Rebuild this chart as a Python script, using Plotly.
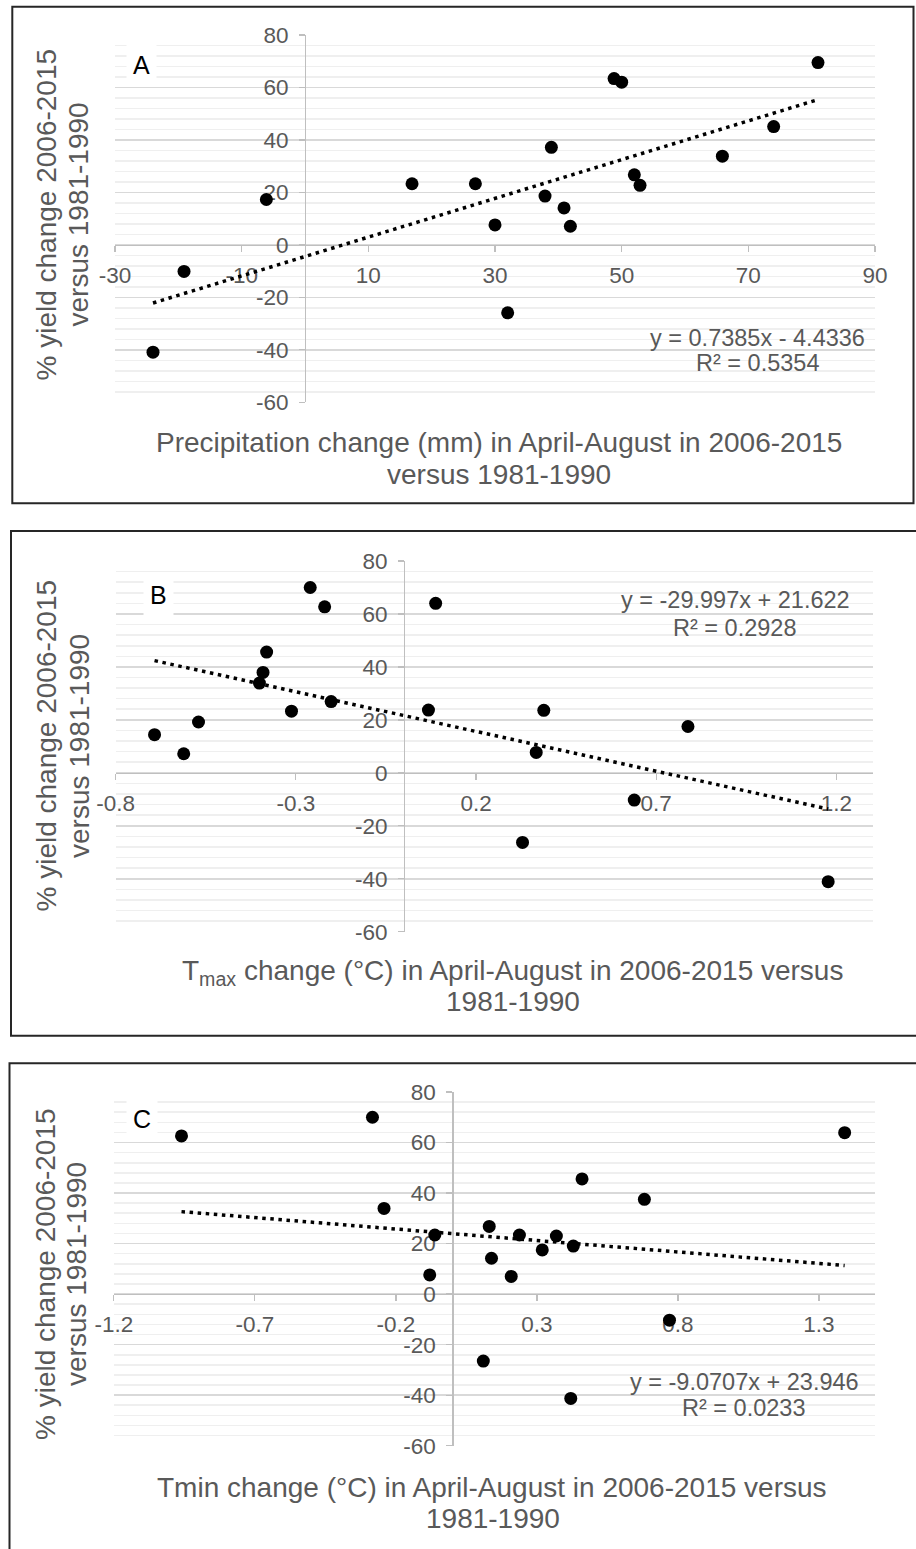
import plotly.graph_objects as go

W, H = 916, 1549
FONT = "Liberation Sans, Arial, Helvetica, sans-serif"
GREY_TXT = "#595959"

# ---------------- data ----------------
# Panel A: precipitation change (mm) vs % yield change
precip_change = [-24.0, -19.1, -6.1, 16.9, 26.9, 30.0, 32.0, 37.9, 38.9, 40.9,
                 41.9, 48.8, 50.0, 52.0, 52.9, 65.9, 74.0, 81.0]
yield_a = [-40.9, -10.1, 17.3, 23.3, 23.3, 7.6, -25.9, 18.6, 37.2, 14.1,
           7.1, 63.4, 62.0, 26.7, 22.7, 33.8, 45.1, 69.5]

# Panel B: Tmax change (°C) vs % yield change
tmax_change = [-0.692, -0.611, -0.570, -0.401, -0.391, -0.381, -0.312, -0.260, -0.220,
               -0.202, 0.068, 0.088, 0.329, 0.367, 0.388, 0.639, 0.788, 1.177]
yield_b = [14.4, 7.2, 19.2, 33.9, 37.9, 45.6, 23.3, 70.0, 62.7,
           26.9, 23.7, 64.0, -26.3, 7.7, 23.6, -10.3, 17.5, -41.1]

# Panel C: Tmin change (°C) vs % yield change
tmin_change = [-0.960, -0.283, -0.242, -0.080, -0.062, 0.110, 0.131, 0.139, 0.209,
               0.238, 0.319, 0.369, 0.420, 0.429, 0.460, 0.681, 0.770, 1.391]
yield_c = [62.6, 70.0, 33.9, 7.6, 23.4, -26.5, 26.8, 14.2, 7.0,
           23.4, 17.5, 23.0, -41.3, 19.0, 45.6, 37.5, -10.3, 63.9]

# Trendline coefficients (from the chart's equations)
trend_slope = [0.7385, -29.997, -9.0707]
trend_intercept = [-4.4336, 21.622, 23.946]
equation_text = ["y = 0.7385x - 4.4336", "y = -29.997x + 21.622", "y = -9.0707x + 23.946"]
r2_text = ["R² = 0.5354", "R² = 0.2928", "R² = 0.0233"]
panel_letters = ["A", "B", "C"]

# Axis ticks
x_range_a = [-30, 90]
x_ticks_a = [-30, -10, 10, 30, 50, 70, 90]
x_ticktext_a = ["-30", "-10", "10", "30", "50", "70", "90"]
x_range_b = [-0.8, 1.3]
x_ticks_b = [-0.8, -0.3, 0.2, 0.7, 1.2]
x_ticktext_b = ["-0.8", "-0.3", "0.2", "0.7", "1.2"]
x_range_c = [-1.2, 1.5]
x_ticks_c = [-1.2, -0.7, -0.2, 0.3, 0.8, 1.3]
x_ticktext_c = ["-1.2", "-0.7", "-0.2", "0.3", "0.8", "1.3"]
y_range = [-60, 80]
y_ticks = [-60, -40, -20, 0, 20, 40, 60, 80]
y_ticktext = ["-60", "-40", "-20", "0", "20", "40", "60", "80"]

y_title_lines = ["% yield change 2006-2015", "versus 1981-1990"]
x_title_a = ["Precipitation change (mm) in April-August in 2006-2015", "versus 1981-1990"]
x_title_b = ["T<sub>max</sub> change (°C) in April-August in 2006-2015 versus", "1981-1990"]
x_title_c = ["Tmin change (°C) in April-August in 2006-2015 versus", "1981-1990"]

# ---------------- layout geometry (pixels) ----------------
def fx(p):
    return p / W


def fy(p):
    return 1 - p / H


panels = [
    dict(x=precip_change, y=yield_a, xr=x_range_a, xt=x_ticks_a, xtt=x_ticktext_a,
         dx=(115, 875), dy=(35, 402.3), xtitle=x_title_a,
         xt_pos=[(499, 443), (499, 475)], yt_pos=[(45.5, 215), (77.5, 215)],
         eq_pos=[(757, 338), (757, 363)], lab_pos=(141, 64.5),
         box=(12.3, 6.7, 913.5, 503.3)),
    dict(x=tmax_change, y=yield_b, xr=x_range_b, xt=x_ticks_b, xtt=x_ticktext_b,
         dx=(115.6, 872.5), dy=(561, 931.7), xtitle=x_title_b,
         xt_pos=[(512, 972), (513, 1001)], yt_pos=[(46.5, 746), (80, 746)],
         eq_pos=[(735, 600), (734, 628)], lab_pos=(158, 595),
         box=(11, 531, 930, 1035.7)),
    dict(x=tmin_change, y=yield_c, xr=x_range_c, xt=x_ticks_c, xtt=x_ticktext_c,
         dx=(113.8, 875.4), dy=(1092, 1445.7), xtitle=x_title_c,
         xt_pos=[(492, 1487), (493, 1518)], yt_pos=[(45, 1274), (76, 1274)],
         eq_pos=[(744, 1382), (743, 1408)], lab_pos=(141.5, 1119),
         box=(9.5, 1063.3, 930, 1570)),
]

fig = go.Figure()
layout = dict(
    width=W, height=H, autosize=False,
    margin=dict(l=0, r=0, t=0, b=0, pad=0, autoexpand=False),
    paper_bgcolor="white", plot_bgcolor="white",
    showlegend=False, font=dict(family=FONT, color=GREY_TXT),
)
annotations = []
shapes = []

for i, p in enumerate(panels):
    sfx = "" if i == 0 else str(i + 1)
    xa, ya = "x" + sfx, "y" + sfx
    # scatter points
    fig.add_trace(go.Scatter(x=p["x"], y=p["y"], mode="markers", xaxis=xa, yaxis=ya,
                             marker=dict(color="black", size=13, line=dict(width=0)),
                             hoverinfo="skip"))
    # trendline over data extent
    xmin, xmax = min(p["x"]), max(p["x"])
    tx = [xmin, xmax]
    ty = [trend_slope[i] * v + trend_intercept[i] for v in tx]
    fig.add_trace(go.Scatter(x=tx, y=ty, mode="lines", xaxis=xa, yaxis=ya,
                             line=dict(color="black", width=3.5, dash="3.5px,4.6px"),
                             hoverinfo="skip"))

    dx0, dx1 = p["dx"]
    dy0, dy1 = p["dy"]
    xr = p["xr"]
    zero_y_px = dy0 + (y_range[1] - 0) / (y_range[1] - y_range[0]) * (dy1 - dy0)
    zero_x_px = dx0 + (0 - xr[0]) / (xr[1] - xr[0]) * (dx1 - dx0)

    layout["xaxis" + sfx] = dict(
        domain=[fx(dx0), fx(dx1)], range=xr, anchor="free", position=fy(zero_y_px),
        automargin=False,
        showline=True, linecolor="#bfbfbf", linewidth=1.3,
        ticks="outside", ticklen=6, tickwidth=1.3, tickcolor="#bfbfbf",
        tickmode="array", tickvals=p["xt"], ticktext=p["xtt"],
        tickfont=dict(family=FONT, size=22.5, color=GREY_TXT),
        ticklabelstandoff=4,
        showgrid=False, zeroline=False, layer="below traces", fixedrange=True,
    )
    layout["yaxis" + sfx] = dict(
        domain=[fy(dy1), fy(dy0)], range=y_range, anchor="free", position=fx(zero_x_px),
        automargin=False,
        showline=True, linecolor="#bfbfbf", linewidth=1.3,
        ticks="outside", ticklen=6, tickwidth=1.3, tickcolor="#bfbfbf",
        tickmode="array", tickvals=y_ticks, ticktext=y_ticktext,
        tickfont=dict(family=FONT, size=22.5, color=GREY_TXT),
        ticklabelstandoff=6,
        showgrid=True, gridcolor="#d9d9d9", gridwidth=1.6,
        minor=dict(tickmode="linear", tick0=0, dtick=4, showgrid=True,
                   gridcolor="#efefef", gridwidth=1.6, ticks=""),
        zeroline=False, layer="below traces", fixedrange=True,
    )

    # x-axis title lines
    for txt, (cx, cy) in zip(p["xtitle"], p["xt_pos"]):
        annotations.append(dict(text=txt, x=fx(cx), y=fy(cy), xref="paper", yref="paper",
                                xanchor="center", yanchor="middle", showarrow=False,
                                font=dict(family=FONT, size=28, color=GREY_TXT)))
    # y-axis title lines
    for txt, (cx, cy) in zip(y_title_lines, p["yt_pos"]):
        annotations.append(dict(text=txt, x=fx(cx), y=fy(cy), xref="paper", yref="paper",
                                xanchor="center", yanchor="middle", showarrow=False,
                                textangle=-90,
                                font=dict(family=FONT, size=28, color=GREY_TXT)))
    # equation + R²
    for txt, (cx, cy) in zip([equation_text[i], r2_text[i]], p["eq_pos"]):
        annotations.append(dict(text=txt, x=fx(cx), y=fy(cy), xref="paper", yref="paper",
                                xanchor="center", yanchor="middle", showarrow=False,
                                font=dict(family=FONT, size=23.5, color=GREY_TXT)))
    # panel letter with white box
    lx, ly = p["lab_pos"]
    annotations.append(dict(text=panel_letters[i], x=fx(lx), y=fy(ly), xref="paper", yref="paper",
                            xanchor="center", yanchor="middle", showarrow=False,
                            bgcolor="white", borderpad=6,
                            font=dict(family=FONT, size=25, color="black")))
    # panel border
    bx0, by0, bx1, by1 = p["box"]
    shapes.append(dict(type="rect", xref="paper", yref="paper",
                       x0=fx(bx0), x1=fx(bx1), y0=fy(by0), y1=fy(by1),
                       line=dict(color="#262626", width=2), fillcolor="rgba(0,0,0,0)",
                       layer="above"))

layout["annotations"] = annotations
layout["shapes"] = shapes
fig.update_layout(**layout)
fig.write_html("out.html",
               config={"displayModeBar": False, "staticPlot": True},
               post_script="document.body.style.margin='0px';document.body.style.overflow='hidden';")
